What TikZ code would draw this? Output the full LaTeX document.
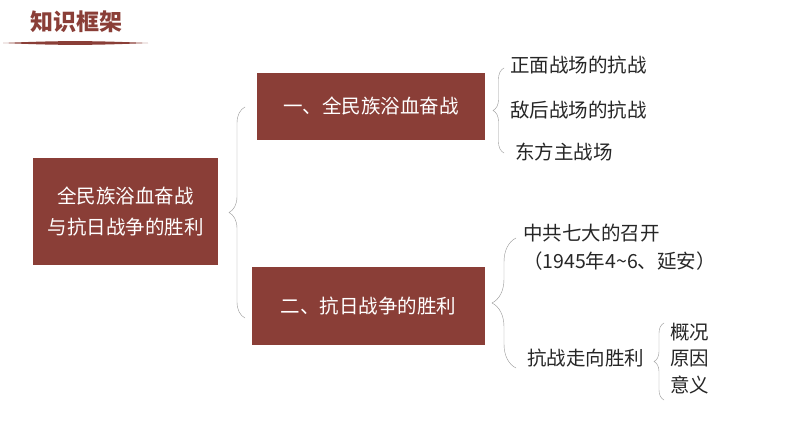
\documentclass[tikz,border=0pt]{standalone}
\usepackage{fontspec}
\setmainfont{Noto Sans CJK SC}
\usetikzlibrary{positioning,decorations.pathreplacing}
\definecolor{brick}{RGB}{138,62,55}
\definecolor{bracegray}{RGB}{150,150,150}

\begin{document}
\begin{tikzpicture}[
    x=1pt, y=-1pt,
    font=\fontsize{19.5}{31}\selectfont,
    topic/.style  = {fill=brick, text=white, align=center, inner sep=0pt},
    item/.style   = {anchor=west, inner sep=0pt, text=black!85},
    curly/.style  = {draw=bracegray, thin, decorate,
                     decoration={brace, mirror, amplitude=#1}},
]
\useasboundingbox (0,0) rectangle (794,447);

%% -- title ---------------------------------------------------------------
\node[text=brick, font=\fontsize{23}{25}\selectfont\bfseries,
      anchor=west, inner sep=0pt] (title) at (30,22) {知识框架};
\fill[brick] (3,43) .. controls (60,40.5) and (90,40.5) .. (148,43)
             .. controls (90,45.5) and (60,45.5) .. (3,43) -- cycle;

%% -- boxes ---------------------------------------------------------------
\node[topic, minimum width=185pt, minimum height=107pt] (root) at (125.5,211.5)
  {全民族浴血奋战\\与抗日战争的胜利};
\node[topic, minimum width=228pt, minimum height=67pt] (b1) at (371,106.5)
  {一、全民族浴血奋战};
\node[topic, minimum width=233pt, minimum height=78pt] (b2) at (368.5,306)
  {二、抗日战争的胜利};

%% -- leaves --------------------------------------------------------------
\node[item] (l1) at (510,65)  {正面战场的抗战};
\node[item] (l2) at (510,110) {敌后战场的抗战};
\node[item] (l3) at (515,152) {东方主战场};

\node[item] (m1) at (523,233) {中共七大的召开};
\node[item] (m2) at (523,261) {（1945年4\textasciitilde6、延安）};
\node[item] (m3) at (527,358) {抗战走向胜利};

\node[item] (n1) at (670,332) {概况};
\node[item] (n2) at (670,358) {原因};
\node[item] (n3) at (670,385) {意义};

%% -- braces --------------------------------------------------------------
\coordinate (r0t) at (245,107);
\coordinate (r0b) at (245,318);
\draw[curly=16pt] (r0t) -- (r0b);

\coordinate (r1t) at (504,68);
\coordinate (r1b) at (504,153);
\draw[curly=11pt] (r1t) -- (r1b);

\coordinate (r2t) at (516,238);
\coordinate (r2b) at (516,368);
\draw[curly=24pt] (r2t) -- (r2b);

\coordinate (r3t) at (664,323);
\coordinate (r3b) at (664,400);
\draw[curly=10pt] (r3t) -- (r3b);

\end{tikzpicture}
\end{document}
